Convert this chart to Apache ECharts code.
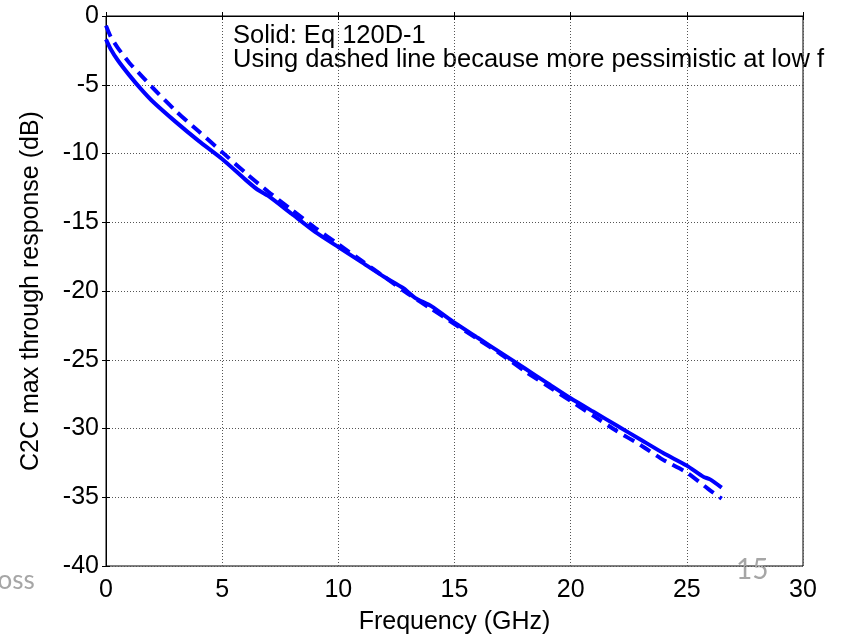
<!DOCTYPE html>
<html>
<head>
<meta charset="utf-8">
<script src="https://cdn.jsdelivr.net/npm/echarts@6/dist/echarts.min.js"></script>
<style>
  html, body { margin: 0; padding: 0; background: #fff; }
  #chart { width: 856px; height: 641px; }
</style>
</head>
<body>
<div id="chart"></div>
<script>
// solid curve (Eq 120D-1)
const solidFreq = [0, 0.2, 0.5, 1, 1.5, 2, 3, 4, 5, 6, 6.5, 7, 8, 9, 10, 11, 12, 12.8, 13.3, 14, 15, 16, 17, 18, 19, 20, 21, 22, 23, 24, 25, 25.7, 26, 26.5];
const solidDb = [-1.7, -2.4, -3.2, -4.3, -5.3, -6.2, -7.7, -9.1, -10.4, -11.9, -12.6, -13.1, -14.4, -15.7, -16.8, -17.9, -19.0, -19.8, -20.5, -21.1, -22.3, -23.4, -24.5, -25.6, -26.7, -27.8, -28.8, -29.8, -30.8, -31.8, -32.7, -33.5, -33.7, -34.3];

// dashed curve
const dashFreq = [0, 0.2, 0.5, 1, 1.5, 2, 3, 4, 5, 6, 7, 8, 9, 10, 11, 12, 13, 14, 15, 16, 17, 18, 19, 20, 21, 22, 23, 24, 25, 26, 26.5];
const dashDb = [-0.7, -1.5, -2.3, -3.4, -4.3, -5.2, -6.9, -8.4, -9.9, -11.4, -12.8, -14.1, -15.4, -16.6, -17.8, -19.0, -20.2, -21.3, -22.4, -23.5, -24.6, -25.8, -26.9, -28.0, -29.1, -30.2, -31.2, -32.3, -33.2, -34.5, -35.1];

const annotation = ['Solid: Eq 120D-1', 'Using dashed line because more pessimistic at low f'];

const FONT = '"Liberation Sans", Arial, sans-serif';
const FS = 25;

const pairs = (xs, ys) => xs.map((x, i) => [x, ys[i]]);

const chart = echarts.init(document.getElementById('chart'));

const gridLine = {
    show: true,
    lineStyle: { color: '#555', width: 1, type: [1, 2] }
};

const option = {
    animation: false,
    backgroundColor: '#fff',
    grid: {
        left: 106, right: 53, top: 16, bottom: 75,
        show: true, borderColor: '#000', borderWidth: 1
    },
    xAxis: [
        {
            type: 'value', min: 0, max: 30, interval: 5,
            name: 'Frequency (GHz)', nameLocation: 'middle', nameGap: 44,
            nameTextStyle: { fontFamily: FONT, fontSize: FS, color: '#000' },
            axisLine: { show: true, lineStyle: { color: '#000' } },
            axisTick: { show: true, inside: true, length: 4, lineStyle: { color: '#000' } },
            axisLabel: { fontFamily: FONT, fontSize: FS, color: '#000', margin: 12 },
            splitLine: gridLine
        },
        {
            type: 'value', min: 0, max: 30, interval: 5, position: 'top',
            axisLine: { show: true, lineStyle: { color: '#000' } },
            axisTick: { show: true, inside: true, length: 4, lineStyle: { color: '#000' } },
            axisLabel: { show: false },
            splitLine: { show: false }
        }
    ],
    yAxis: [
        {
            type: 'value', min: -40, max: 0, interval: 5,
            name: 'C2C max through response (dB)', nameLocation: 'middle', nameGap: 62,
            nameTextStyle: { fontFamily: FONT, fontSize: FS, color: '#000' },
            axisLine: { show: true, lineStyle: { color: '#000' } },
            axisTick: { show: true, inside: true, length: 4, lineStyle: { color: '#000' } },
            axisLabel: { fontFamily: FONT, fontSize: FS, color: '#000', margin: 7 },
            splitLine: gridLine
        },
        {
            type: 'value', min: -40, max: 0, interval: 5, position: 'right',
            axisLine: { show: true, lineStyle: { color: '#000' } },
            axisTick: { show: true, inside: true, length: 4, lineStyle: { color: '#000' } },
            axisLabel: { show: false },
            splitLine: { show: false }
        }
    ],
    series: [
        {
            name: 'solid', type: 'line', data: pairs(solidFreq, solidDb),
            showSymbol: false, smooth: 0.2,
            lineStyle: { color: '#0000ff', width: 4 }
        },
        {
            name: 'dashed', type: 'line', data: pairs(dashFreq, dashDb),
            showSymbol: false, smooth: 0.2,
            lineStyle: { color: '#0000ff', width: 4, type: [12, 7] }
        }
    ],
    graphic: [
        {
            type: 'text', left: 233, top: 23,
            style: { text: annotation.join('\n'), fontFamily: FONT, fontSize: 25.5, lineHeight: 24, fill: '#000' }
        },
        {
            type: 'text', left: -15, top: 568,
            style: { text: 'Loss', fontFamily: 'Lato, "Open Sans", sans-serif', fontSize: 26, fill: '#a6a6a6' }
        },
        {
            type: 'text', left: 736, top: 556,
            style: { text: '15', fontFamily: 'Lato, "Open Sans", sans-serif', fontSize: 28, fill: '#a6a6a6' }
        }
    ]
};

chart.setOption(option);
</script>
</body>
</html>
